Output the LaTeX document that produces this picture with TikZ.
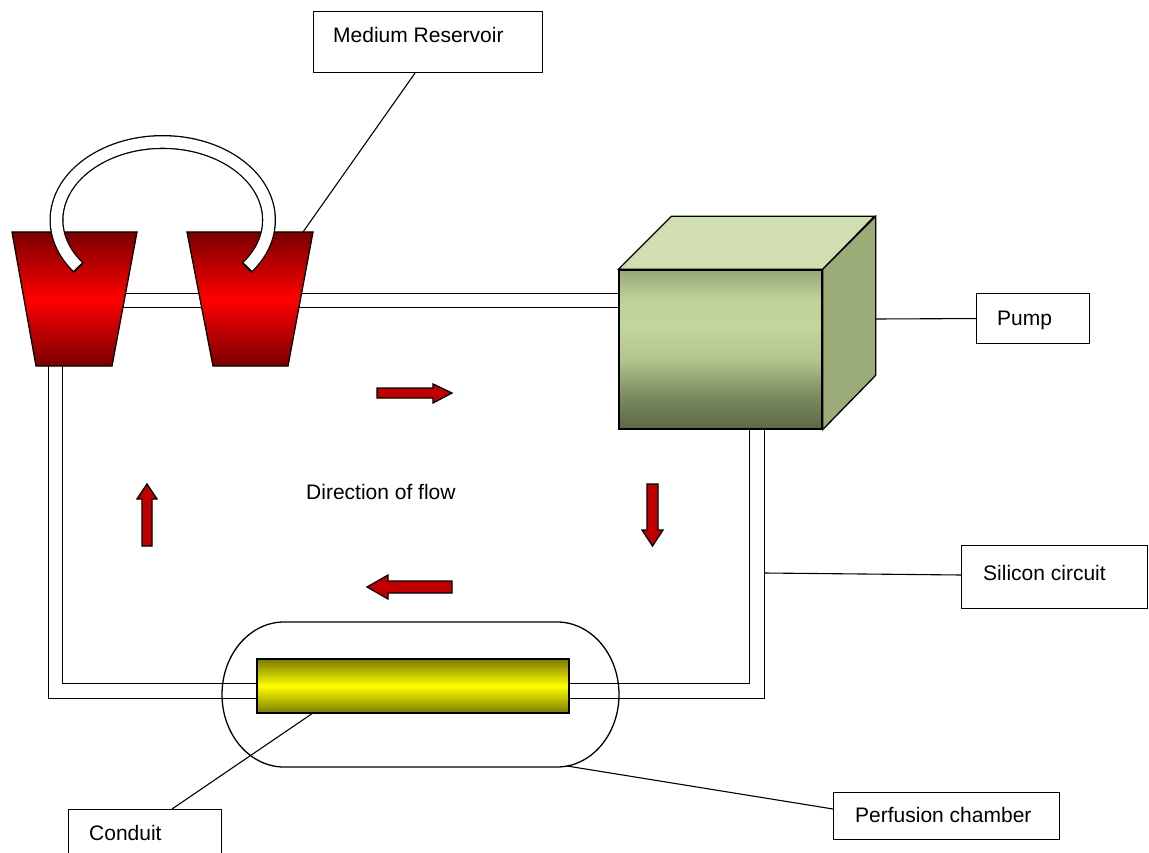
\documentclass[tikz,border=0pt]{standalone}
\usepackage{fontspec}
\setmainfont{Liberation Sans}
\usetikzlibrary{calc}

\definecolor{arrowred}{HTML}{C00000}
\definecolor{resdark}{HTML}{7A0000}
\definecolor{resbright}{HTML}{FF0000}
\definecolor{conddark}{HTML}{7A7A00}
\definecolor{condbright}{HTML}{FFFF00}
\definecolor{pumptop}{HTML}{D1DEB0}
\definecolor{pumpside}{HTML}{9CAC79}
\definecolor{pfa}{HTML}{5B6846}
\definecolor{pfb}{HTML}{7A8A5C}
\definecolor{pfc}{HTML}{B3C58F}
\definecolor{pfd}{HTML}{C3D69B}
\definecolor{pfe}{HTML}{BFD198}
\definecolor{pff}{HTML}{97A777}

% front face of the pump: dark base, light band, slightly darker top
\pgfdeclareverticalshading{pumpfront}{100bp}{color(0bp)=(pfa); color(25bp)=(pfa);
  color(35bp)=(pfb); color(47bp)=(pfc); color(57bp)=(pfd); color(66bp)=(pfe);
  color(75bp)=(pff); color(100bp)=(pff)}

\tikzset{
  tube/.style={line width=1.1pt, double=white, double distance=13.5pt},
  outline/.style={draw=black, line width=1.3pt},
  resshade/.style={outline, top color=resdark, bottom color=resdark, middle color=resbright},
  leader/.style={line width=1.1pt},
  lblbox/.style={draw, line width=1.1pt, fill=white, inner sep=0pt, anchor=north west},
  lbltext/.style={anchor=base west, inner sep=0pt, font=\fontsize{21}{25}\selectfont},
  flowarrow/.style={outline, fill=arrowred, line join=miter}
}

\begin{document}
\begin{tikzpicture}[x=1pt, y=-1pt, line join=miter]
\useasboundingbox (0,0) rectangle (1149,853);
\clip (0,0) rectangle (1149,853);

% silicon circuit tubing
\coordinate (tubeTL) at (110,300.5);
\coordinate (tubeTR) at (622,300.5);
\coordinate (tubeLtop) at (55.5,360);
\coordinate (tubeLcorner) at (55.5,691);
\coordinate (tubeLend) at (270,691);
\coordinate (tubeRstart) at (560,691);
\coordinate (tubeRcorner) at (757,691);
\coordinate (tubeRtop) at (757,420);
\draw[tube] (tubeTL) -- (tubeTR);
\draw[tube] (tubeLtop) -- (tubeLcorner) -- (tubeLend);
\draw[tube] (tubeRstart) -- (tubeRcorner) -- (tubeRtop);

% perfusion chamber outline
\draw[line width=1.3pt] (284,622) -- (557,622)
  arc[start angle=270, end angle=450, x radius=62, y radius=72.5]
  -- (284,767)
  arc[start angle=90, end angle=270, x radius=62, y radius=72.5] -- cycle;
\coordinate (chamberfoot) at (567,766);

% conduit
\node[outline, minimum width=312pt, minimum height=54pt, inner sep=0pt,
      top color=conddark, bottom color=conddark, middle color=condbright] (conduit) at (413,686) {};
\coordinate (condfoot) at (313,713);

% medium reservoirs
\draw[resshade] (12,232) -- (137,232) -- (112,366) -- (36,366) -- cycle;
\draw[resshade] (187,232) -- (313,232) -- (288,366) -- (213,366) -- cycle;
\coordinate (resRcorner) at (303,232);

% connecting arch between the reservoirs
\draw[line width=14pt, black] (79.02,268.02)
  arc[start angle=142, end angle=398, x radius=106.25, y radius=78];
\draw[line width=11.4pt, white] (77.56,266.61)
  arc[start angle=143.3, end angle=396.7, x radius=106.25, y radius=78];

% pump
\node[outline, minimum width=203pt, minimum height=159pt, inner sep=0pt,
      shade, shading=pumpfront] (pump) at (720.5,349.5) {};
\draw[outline, fill=pumptop] (pump.north west) -- ++(53,-53) -- ++(203,0) -- (pump.north east) -- cycle;
\draw[outline, fill=pumpside] (pump.north east) -- ++(53,-53) -- ++(0,159) -- (pump.south east) -- cycle;
\coordinate (pumpright) at (875,319);
\coordinate (silpt) at (764,573);

% flow direction arrows
\draw[flowarrow] (377,388) -- (433,388) -- (433,384) -- (452,393) -- (433,403) -- (433,398) -- (377,398) -- cycle;
\draw[flowarrow] (647,484) -- (658,484) -- (658,530) -- (663,530) -- (652.5,546) -- (642,530) -- (647,530) -- cycle;
\draw[flowarrow] (452,581) -- (388,581) -- (388,575) -- (367,587) -- (388,599) -- (388,593) -- (452,593) -- cycle;
\draw[flowarrow] (142,546) -- (142,499) -- (137,499) -- (147,484) -- (157,499) -- (152,499) -- (152,546) -- cycle;
\node[lbltext] (flowtext) at (306,499) {Direction of flow};

% labels
\node[lblbox, minimum width=229pt, minimum height=61pt] (medbox) at (313,11) {};
\node[lbltext] (medtext) at (333,43) {Medium Reservoir};
\draw[leader] ($(medbox.south west)+(102,0)$) -- (resRcorner);

\node[lblbox, minimum width=113pt, minimum height=50pt] (pumpbox) at (976,293) {};
\node[lbltext] (pumptext) at (997,325) {Pump};
\draw[leader] (pumpright) -- (pumpbox.west);

\node[lblbox, minimum width=186pt, minimum height=63pt] (silbox) at (961,545) {};
\node[lbltext] (siltext) at (983,580) {Silicon circuit};
\draw[leader] (silpt) -- ($(silbox.north west)+(0,30)$);

\node[lblbox, minimum width=226pt, minimum height=47pt] (perfbox) at (833,792) {};
\node[lbltext] (perftext) at (855,822) {Perfusion chamber};
\draw[leader] (chamberfoot) -- ($(perfbox.north west)+(0,17)$);

\node[lblbox, minimum width=153pt, minimum height=52pt] (condbox) at (68,809) {};
\node[lbltext] (condtext) at (89,840) {Conduit};
\draw[leader] (condfoot) -- ($(condbox.north west)+(104,0)$);
\end{tikzpicture}
\end{document}
